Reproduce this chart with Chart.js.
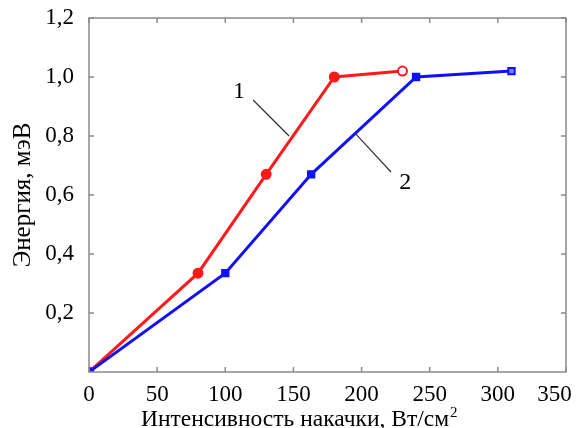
<!DOCTYPE html>
<html>
<head>
<meta charset="utf-8">
<script src="https://cdn.jsdelivr.net/npm/chart.js@4"></script>
<style>
  html, body { margin: 0; padding: 0; background: #fff; }
  #wrap { width: 579px; height: 428px; }
</style>
</head>
<body>
<div id="wrap"><canvas id="energyChart"></canvas></div>
<script>
// data
const curve1X = [0, 80, 130, 180, 230];
const curve1Y = [0, 0.335, 0.67, 1.0, 1.02];
const curve2X = [0, 100, 163, 240, 310];
const curve2Y = [0, 0.335, 0.67, 1.0, 1.02];
const xTicks = [0, 50, 100, 150, 200, 250, 300, 350];
const yTicks = [0.2, 0.4, 0.6, 0.8, 1.0, 1.2];
const xTitle = "Интенсивность накачки, Вт/см";
const xTitleSup = "2";
const yTitle = "Энергия, мэВ";
// curve labels with leader lines, in data units
const curveLabels = [
  { text: "1", at: [110, 0.95], from: [120.4, 0.922], to: [146.8, 0.8] },
  { text: "2", at: [232, 0.64], from: [221.6, 0.678], to: [195.2, 0.81] }
];

const toPoints = (xs, ys) => xs.map((x, i) => ({ x: x, y: ys[i] }));
const serif = "'Liberation Serif', 'Times New Roman', serif";

// box round the plot with inward ticks on all sides, curve labels, axis titles
const boxPlugin = {
  id: "boxTicks",
  afterDraw(chart) {
    const ctx = chart.ctx;
    const a = chart.chartArea;
    const xs = chart.scales.x, ys = chart.scales.y;
    ctx.save();
    ctx.strokeStyle = "#8a8a8a";
    ctx.lineWidth = 1.5;
    ctx.strokeRect(a.left, a.top, a.right - a.left, a.bottom - a.top);
    ctx.beginPath();
    xTicks.forEach(v => {
      let px = xs.getPixelForValue(v);
      ctx.moveTo(px, a.bottom); ctx.lineTo(px, a.bottom - 5);
      ctx.moveTo(px, a.top); ctx.lineTo(px, a.top + 5);
    });
    yTicks.forEach(v => {
      let py = ys.getPixelForValue(v);
      ctx.moveTo(a.left, py); ctx.lineTo(a.left + 5, py);
      ctx.moveTo(a.right, py); ctx.lineTo(a.right - 5, py);
    });
    ctx.stroke();

    ctx.strokeStyle = "#333";
    ctx.lineWidth = 1.2;
    ctx.fillStyle = "#000";
    ctx.font = "24px " + serif;
    ctx.textAlign = "center";
    ctx.textBaseline = "middle";
    curveLabels.forEach(l => {
      ctx.beginPath();
      ctx.moveTo(xs.getPixelForValue(l.from[0]), ys.getPixelForValue(l.from[1]));
      ctx.lineTo(xs.getPixelForValue(l.to[0]), ys.getPixelForValue(l.to[1]));
      ctx.stroke();
      ctx.fillText(l.text, xs.getPixelForValue(l.at[0]), ys.getPixelForValue(l.at[1]));
    });

    // x title with a raised superscript
    ctx.textAlign = "left";
    ctx.textBaseline = "alphabetic";
    ctx.font = "23.5px " + serif;
    const titleLeft = a.left + 52;
    ctx.fillText(xTitle, titleLeft, 426);
    const w = ctx.measureText(xTitle).width;
    ctx.font = "15px " + serif;
    ctx.fillText(xTitleSup, titleLeft + w + 1, 417);

    // y title, rotated
    ctx.translate(30, (a.top + a.bottom) / 2);
    ctx.rotate(-Math.PI / 2);
    ctx.textAlign = "center";
    ctx.font = "25px " + serif;
    ctx.fillText(yTitle, 0, 0);
    ctx.restore();
  }
};

const chartBuilder = (canvasId) => {
  try {
    let canvasObject = document.getElementById(canvasId);
    new Chart(canvasObject, {
      type: "scatter",
      data: {
        datasets: [
          {
            label: "1",
            data: toPoints(curve1X, curve1Y),
            order: 1,
            showLine: true,
            borderColor: "#ff1a1a",
            borderWidth: 3,
            pointStyle: "circle",
            pointRadius: 4.5,
            pointBorderWidth: 2,
            pointBorderColor: "#ff1a1a",
            pointBackgroundColor: ["#ff1a1a", "#ff1a1a", "#ff1a1a", "#ff1a1a", "#ffffff"],
          },
          {
            label: "2",
            data: toPoints(curve2X, curve2Y),
            order: 0,
            showLine: true,
            borderColor: "#1010ff",
            borderWidth: 3,
            pointStyle: "rect",
            pointRadius: 4.5,
            pointBorderWidth: 2,
            pointBorderColor: "#1010ff",
            pointBackgroundColor: ["#1010ff", "#1010ff", "#1010ff", "#1010ff", "#8080ff"],
          }
        ]
      },
      options: {
        responsive: true,
        maintainAspectRatio: false,
        animation: false,
        layout: { padding: { top: 18, right: 13, left: 0, bottom: 0 } },
        scales: {
          x: {
            type: "linear",
            min: 0,
            max: 350,
            border: { display: false },
            grid: { display: false },
            afterBuildTicks: (scale) => { scale.ticks = xTicks.map(v => ({ value: v })); },
            afterFit: (scale) => {
              scale.height = 56;
              scale.paddingLeft = 0;
              scale.paddingRight = 0;
            },
            ticks: {
              color: "#000",
              font: { family: serif, size: 23 },
              padding: 1,
              maxRotation: 0,
              // last label is nudged left to stay inside the picture
              callback: (v) => v === 350 ? "350\u2002\u2002" : String(v),
            },
            title: { display: false }
          },
          y: {
            type: "linear",
            min: 0,
            max: 1.2,
            border: { display: false },
            grid: { display: false },
            afterBuildTicks: (scale) => { scale.ticks = yTicks.map(v => ({ value: v })); },
            afterFit: (scale) => {
              scale.width = 89;
              scale.paddingTop = 0;
              scale.paddingBottom = 0;
            },
            ticks: {
              color: "#000",
              font: { family: serif, size: 23 },
              padding: 7,
              callback: (v) => v.toFixed(1).replace(".", ","),
            },
            title: { display: false }
          }
        },
        plugins: {
          legend: { display: false },
          tooltip: { enabled: false },
        }
      },
      plugins: [boxPlugin]
    });
  } catch (error) {
    console.log(error.message);
  }
};

chartBuilder("energyChart");
</script>
</body>
</html>
